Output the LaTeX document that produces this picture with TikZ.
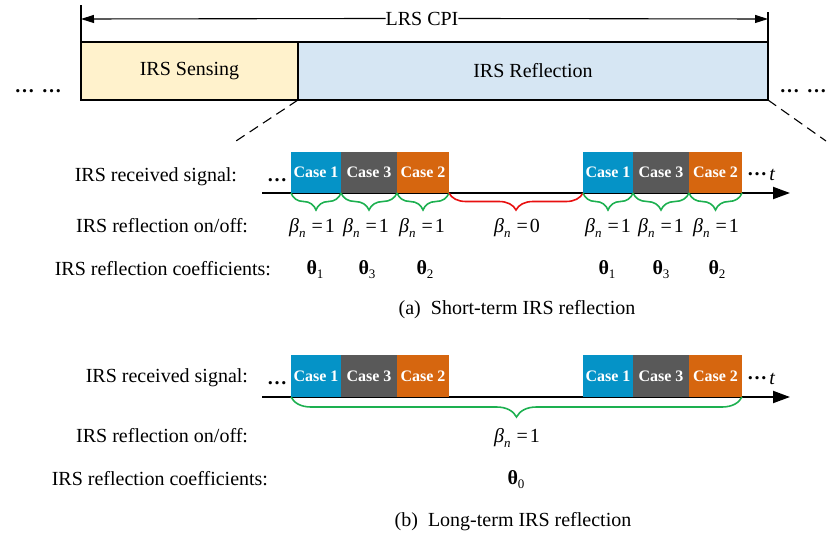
\documentclass[tikz,border=0pt]{standalone}
\usepackage{fontspec}
\setmainfont{Liberation Serif}
\usetikzlibrary{arrows.meta,decorations.pathreplacing}
\definecolor{cblue}{RGB}{5,147,199}
\definecolor{cgray}{RGB}{89,89,89}
\definecolor{corange}{RGB}{214,102,15}
\definecolor{fsense}{RGB}{255,242,204}
\definecolor{frefl}{RGB}{214,230,243}
\definecolor{bgreen}{RGB}{29,176,80}
\definecolor{bred}{RGB}{232,16,16}
\newcommand{\betan}[1]{{\itshape β}\raisebox{-0.6ex}{\fontsize{13}{13}\selectfont\itshape n}\hspace{0.3em}=\hspace{0.1em}#1}
\newcommand{\thetab}[1]{{\bfseries θ}\raisebox{-0.5ex}{\fontsize{13}{13}\selectfont #1}}
\begin{document}
\begin{tikzpicture}[x=1pt,y=-1pt,
  every node/.style={inner sep=0pt,outer sep=0pt},
  txt/.style={font=\fontsize{20}{24}\selectfont},
  casebox/.style={minimum height=41pt,anchor=north west,font=\fontsize{16}{19}\selectfont\bfseries,text=white},
  phase/.style={draw=black,line width=1.1pt,minimum height=58pt,anchor=north west,font=\fontsize{20}{24}\selectfont},
  thin/.style={line width=1.1pt},
  axis/.style={line width=2pt,-{Triangle[length=17pt,width=12pt]}},
  gbrace/.style={draw=bgreen,line width=1.6pt,decorate,decoration={brace,mirror,amplitude=17pt}},
  rbrace/.style={draw=bred,line width=1.6pt,decorate,decoration={brace,mirror,amplitude=17pt}},
  bigbrace/.style={draw=bgreen,line width=1.6pt,decorate,decoration={brace,mirror,amplitude=20pt}}]
\useasboundingbox (0,0) rectangle (828,536);

% ---------- top CPI structure ----------
\node[phase,fill=fsense,minimum width=217pt] (sense) at (81,42) {IRS Sensing};
\node[phase,fill=frefl,minimum width=470pt] (refl) at (298,42) {IRS Reflection};
\coordinate (vLtop) at (81,5);
\coordinate (vRtop) at (768,12);
\draw[thin] (vLtop) -- (sense.south west);
\draw[thin] (vRtop) -- (refl.south east);
\coordinate (cpiL) at (81,19);
\coordinate (cpiR) at (768,19);
\node[txt,anchor=base] (cpi) at (422,25) {LRS CPI};
\draw[thin,-{Triangle[length=13pt,width=8pt]}] (cpi.west) -- (cpiL);
\draw[thin,-{Triangle[length=13pt,width=8pt]}] (cpi.east) -- (cpiR);
\node[txt,anchor=base,font=\fontsize{20}{24}\selectfont\bfseries] (dotsL) at (38,92) {…\hspace{0.35em}…};
\node[txt,anchor=base,font=\fontsize{20}{24}\selectfont\bfseries] (dotsR) at (803,92) {…\hspace{0.35em}…};
\coordinate (dashL) at (233,143);
\coordinate (dashR) at (826,141);
\draw[thin,dash pattern=on 10pt off 6pt] (refl.south west) -- (dashL);
\draw[thin,dash pattern=on 10pt off 6pt] (refl.south east) -- (dashR);

% ---------- (a) short-term ----------
\node[txt,anchor=base east] (recA) at (237,181) {IRS received signal:};
\node[txt,anchor=base east] (onA) at (248,232) {IRS reflection on/off:};
\node[txt,anchor=base east] (coA) at (271,275) {IRS reflection coefficients:};
\coordinate (axAs) at (262,193);
\coordinate (axAe) at (790,193);
\draw[axis] (axAs) -- (axAe);
\node[txt,anchor=base,font=\fontsize{20}{24}\selectfont\bfseries] (ldA) at (277,181) {…};
\node[casebox,fill=cblue,minimum width=50pt] (a1) at (291,152) {Case 1};
\node[casebox,fill=cgray,minimum width=56pt] (a3) at (341,152) {Case 3};
\node[casebox,fill=corange,minimum width=52pt] (a2) at (397,152) {Case 2};
\node[casebox,fill=cblue,minimum width=50pt] (b1) at (583,152) {Case 1};
\node[casebox,fill=cgray,minimum width=56pt] (b3) at (633,152) {Case 3};
\node[casebox,fill=corange,minimum width=53pt] (b2) at (689,152) {Case 2};
\node[txt,anchor=base west] (rdA) at (747,180) {\bfseries\raisebox{0.45ex}{…}\hspace{0.12em}\mdseries\itshape t};
\draw[gbrace] (a1.south west) -- (a1.south east);
\draw[gbrace] (a3.south west) -- (a3.south east);
\draw[gbrace] (a2.south west) -- (a2.south east);
\draw[rbrace] (a2.south east) -- (b1.south west);
\draw[gbrace] (b1.south west) -- (b1.south east);
\draw[gbrace] (b3.south west) -- (b3.south east);
\draw[gbrace] (b2.south west) -- (b2.south east);
\node[txt,anchor=base] (ba1) at (312,232) {\betan{1}};
\node[txt,anchor=base] (ba3) at (366,232) {\betan{1}};
\node[txt,anchor=base] (ba2) at (422,232) {\betan{1}};
\node[txt,anchor=base] (ba0) at (517,232) {\betan{0}};
\node[txt,anchor=base] (bb1) at (608,232) {\betan{1}};
\node[txt,anchor=base] (bb3) at (661,232) {\betan{1}};
\node[txt,anchor=base] (bb2) at (716,232) {\betan{1}};
\node[txt,anchor=base] (ta1) at (315,274) {\thetab{1}};
\node[txt,anchor=base] (ta3) at (367,274) {\thetab{3}};
\node[txt,anchor=base] (ta2) at (425,274) {\thetab{2}};
\node[txt,anchor=base] (tb1) at (607,274) {\thetab{1}};
\node[txt,anchor=base] (tb3) at (661,274) {\thetab{3}};
\node[txt,anchor=base] (tb2) at (717,274) {\thetab{2}};
\node[txt,anchor=base] (capA) at (517,314) {(a)\hspace{0.5em}Short-term IRS reflection};

% ---------- (b) long-term ----------
\node[txt,anchor=base east] (recB) at (248,382) {IRS received signal:};
\node[txt,anchor=base east] (onB) at (248,442) {IRS reflection on/off:};
\node[txt,anchor=base east] (coB) at (268,485) {IRS reflection coefficients:};
\coordinate (axBs) at (262,397);
\coordinate (axBe) at (790,397);
\draw[axis] (axBs) -- (axBe);
\node[txt,anchor=base,font=\fontsize{20}{24}\selectfont\bfseries] (ldB) at (277,384) {…};
\node[casebox,fill=cblue,minimum width=50pt,minimum height=42pt] (c1) at (291,355) {Case 1};
\node[casebox,fill=cgray,minimum width=56pt,minimum height=42pt] (c3) at (341,355) {Case 3};
\node[casebox,fill=corange,minimum width=52pt,minimum height=42pt] (c2) at (397,355) {Case 2};
\node[casebox,fill=cblue,minimum width=50pt,minimum height=42pt] (d1) at (583,355) {Case 1};
\node[casebox,fill=cgray,minimum width=56pt,minimum height=42pt] (d3) at (633,355) {Case 3};
\node[casebox,fill=corange,minimum width=53pt,minimum height=42pt] (d2) at (689,355) {Case 2};
\node[txt,anchor=base west] (rdB) at (747,384) {\bfseries\raisebox{0.45ex}{…}\hspace{0.12em}\mdseries\itshape t};
\draw[bigbrace] (c1.south west) -- (d2.south east);
\node[txt,anchor=base] (bc) at (517,442) {\betan{1}};
\node[txt,anchor=base] (tc) at (516,484) {\thetab{0}};
\node[txt,anchor=base] (capB) at (513,526) {(b)\hspace{0.5em}Long-term IRS reflection};
\end{tikzpicture}
\end{document}
